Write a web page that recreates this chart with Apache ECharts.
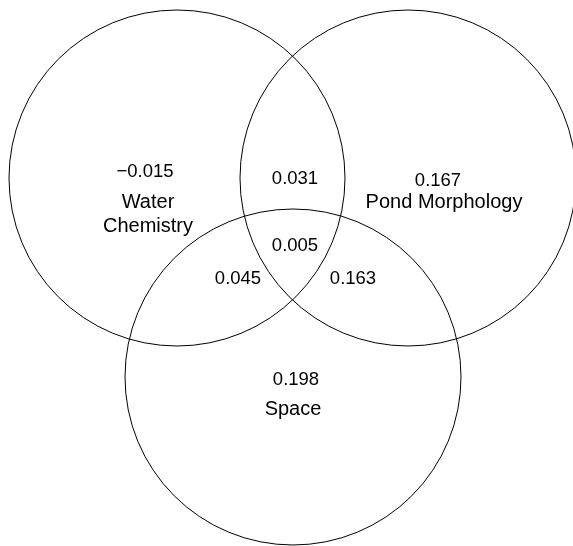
<!DOCTYPE html>
<html>
<head>
<meta charset="utf-8">
<script src="https://cdn.jsdelivr.net/npm/echarts@6/dist/echarts.min.js"></script>
<style>
html,body{margin:0;padding:0;background:#fff;}
#chart{width:573px;height:546px;}
</style>
</head>
<body>
<div id="chart"></div>
<script>
// Sets (circles)
const setNames = ['Water\nChemistry', 'Pond Morphology', 'Space'];
const setValues = ['\u22120.015', '0.167', '0.198'];
const circleCX = [177, 408, 293];
const circleCY = [178, 178, 377];
const circleR = [168, 168, 168];

// Overlap regions
const overlapNames = ['WC\u2229PM', 'WC\u2229PM\u2229S', 'WC\u2229S', 'PM\u2229S'];
const overlapValues = ['0.031', '0.005', '0.045', '0.163'];

// label anchor points (chart units)
const setValueX = [145, 438, 296];
const setValueY = [172, 181, 380];
const setNameX = [148, 444, 293];
const setNameY = [214, 202, 409];
const overlapX = [295, 295, 238, 353];
const overlapY = [179, 246, 279, 279];

const chart = echarts.init(document.getElementById('chart'), null, {renderer: 'canvas'});
const FAMILY = '"Liberation Sans", Arial, Helvetica, sans-serif';

const circleData = circleCX.map((x, i) => [x, circleCY[i], circleR[i]]);
const textData = [];
setValues.forEach((v, i) => textData.push([setValueX[i], setValueY[i], v, 18.5]));
setNames.forEach((v, i) => textData.push([setNameX[i], setNameY[i], v, 20]));
overlapValues.forEach((v, i) => textData.push([overlapX[i], overlapY[i], v, 18.5]));

chart.setOption({
  animation: false,
  backgroundColor: '#fff',
  grid: {left: 0, right: 0, top: 0, bottom: 0},
  xAxis: {type: 'value', min: 0, max: 573, show: false},
  yAxis: {type: 'value', min: 0, max: 546, inverse: true, show: false},
  series: [
    {
      type: 'custom',
      data: circleData,
      clip: false,
      renderItem: function (params, api) {
        const c = api.coord([api.value(0), api.value(1)]);
        const r = api.size([api.value(2), 0])[0];
        return {
          type: 'circle',
          shape: {cx: c[0], cy: c[1], r: r},
          style: {fill: null, stroke: '#000', lineWidth: 1}
        };
      }
    },
    {
      type: 'custom',
      data: textData,
      clip: false,
      renderItem: function (params, api) {
        const c = api.coord([api.value(0), api.value(1)]);
        const d = textData[params.dataIndex];
        return {
          type: 'text',
          x: c[0], y: c[1],
          style: {
            text: d[2],
            font: d[3] + 'px ' + FAMILY,
            fill: '#000',
            align: 'center',
            verticalAlign: 'middle',
            lineHeight: 24
          }
        };
      }
    }
  ]
});
</script>
</body>
</html>
